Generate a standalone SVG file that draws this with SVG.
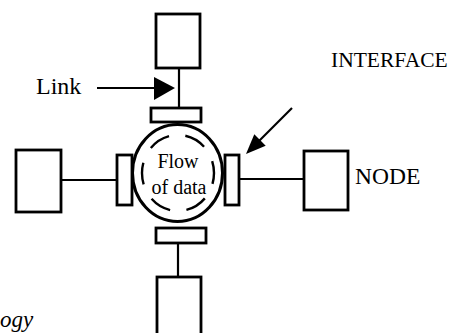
<svg xmlns="http://www.w3.org/2000/svg" width="462" height="333" viewBox="0 0 462 333">
<style>
.box{fill:#fff;stroke:#000;stroke-width:2.8}
.ln{stroke:#000;stroke-width:2.2;fill:none}
.lbl{font-family:"Liberation Serif","Times New Roman",serif;fill:#000}
</style>
<rect width="462" height="333" fill="#fff"/>
<g id="connectors">
<line class="ln" x1="179" y1="68" x2="179" y2="108"/>
<line class="ln" x1="61" y1="180" x2="116" y2="180"/>
<line class="ln" x1="239" y1="179" x2="304" y2="179"/>
<line class="ln" x1="178" y1="243" x2="178" y2="277"/>
<line class="ln" x1="97" y1="88" x2="156" y2="88" stroke-width="2.6"/>
<polygon points="154,77 175,88 154,100" fill="#000"/>
<line class="ln" x1="292" y1="108" x2="258" y2="142" stroke-width="2.6"/>
<polygon points="246,154 254.3,134.3 265.7,145.7" fill="#000"/>
</g>
<g id="node-top"><rect class="box" x="156" y="14" width="44" height="54"/></g>
<g id="node-left"><rect class="box" x="16" y="150" width="45" height="62"/></g>
<g id="node-right"><rect class="box" x="304" y="151" width="44" height="59"/></g>
<g id="node-bottom"><rect class="box" x="157" y="277" width="44" height="70"/></g>
<g id="hub">
<ellipse cx="177.5" cy="173" rx="45" ry="48.5" fill="#fff" stroke="#000" stroke-width="3"/>
<ellipse cx="178" cy="173" rx="36" ry="38" fill="none" stroke="#000" stroke-width="2.4" stroke-dasharray="22 16.5" stroke-dashoffset="11"/>
<text class="lbl" x="178" y="168" font-size="20" text-anchor="middle">Flow</text>
<text class="lbl" x="179" y="194" font-size="20" text-anchor="middle">of data</text>
</g>
<g id="interface-top"><rect class="box" x="151" y="108" width="50" height="14"/></g>
<g id="interface-left"><rect class="box" x="117" y="155" width="15" height="50"/></g>
<g id="interface-right"><rect class="box" x="225" y="155" width="14" height="50"/></g>
<g id="interface-bottom"><rect class="box" x="156" y="228" width="50" height="15"/></g>
<g id="labels">
<text class="lbl" x="36" y="94" font-size="24">Link</text>
<text class="lbl" x="331" y="67" font-size="21.5">INTERFACE</text>
<text class="lbl" x="355" y="184" font-size="23.5">NODE</text>
<text class="lbl" x="0" y="327" font-size="23" font-style="italic">ogy</text>
</g>
</svg>
